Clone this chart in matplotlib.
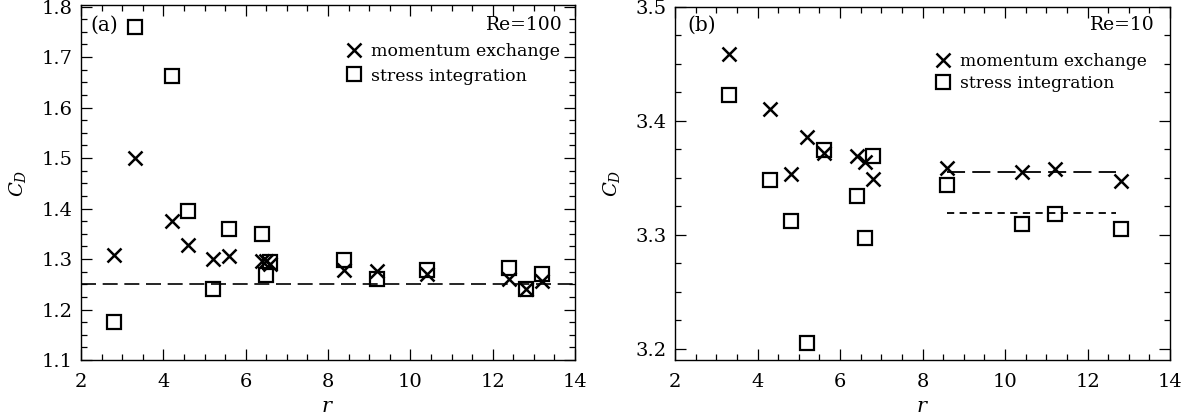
import matplotlib
matplotlib.use("Agg")
import matplotlib.pyplot as plt
from matplotlib.ticker import MultipleLocator, FormatStrFormatter
from matplotlib.lines import Line2D

plt.rcParams['font.family'] = ['DejaVu Serif']
plt.rcParams['mathtext.fontset'] = 'dejavuserif'

# ---- Panel (a): Re = 100 ----
r_a_mom = [2.8, 3.3, 4.2, 4.6, 5.2, 5.6, 6.4, 6.5, 6.6, 8.4, 9.2, 10.4, 12.4, 12.8, 13.2]
cd_a_mom = [1.307, 1.500, 1.376, 1.327, 1.300, 1.305, 1.296, 1.297, 1.290, 1.278, 1.277, 1.271, 1.261, 1.240, 1.257]
r_a_str = [2.8, 3.3, 4.2, 4.6, 5.2, 5.6, 6.4, 6.5, 6.6, 8.4, 9.2, 10.4, 12.4, 12.8, 13.2]
cd_a_str = [1.175, 1.760, 1.662, 1.396, 1.240, 1.360, 1.349, 1.268, 1.294, 1.299, 1.261, 1.278, 1.282, 1.240, 1.270]
ref_a = 1.25
ref_a_range = [2.0, 14.0]

# ---- Panel (b): Re = 10 ----
r_b_mom = [3.3, 4.3, 4.8, 5.2, 5.6, 6.4, 6.6, 6.8, 8.6, 10.4, 11.2, 12.8]
cd_b_mom = [3.459, 3.410, 3.353, 3.386, 3.372, 3.369, 3.364, 3.349, 3.359, 3.355, 3.358, 3.347]
r_b_str = [3.3, 4.3, 4.8, 5.2, 5.6, 6.4, 6.6, 6.8, 8.6, 10.4, 11.2, 12.8]
cd_b_str = [3.423, 3.348, 3.312, 3.205, 3.374, 3.334, 3.297, 3.369, 3.344, 3.309, 3.318, 3.305]
mean_b_mom = 3.355
mean_b_str = 3.319
mean_b_range = [8.6, 12.7]

W, H = 1186, 419
fig = plt.figure(figsize=(W / 100, H / 100), dpi=100)

ax1 = fig.add_axes([81 / W, 1 - 360 / H, 494 / W, 354.5 / H])
ax2 = fig.add_axes([675 / W, 1 - 360 / H, 495 / W, 353 / H])

mk = dict(linestyle='none', color='black', markersize=10)

def style(ax, ylim, ymaj):
    ax.set_xlim(2, 14)
    ax.set_ylim(*ylim)
    ax.xaxis.set_major_locator(MultipleLocator(2))
    ax.xaxis.set_minor_locator(MultipleLocator(0.5))
    ax.yaxis.set_major_locator(MultipleLocator(ymaj))
    ax.yaxis.set_minor_locator(MultipleLocator(ymaj / 4))
    ax.yaxis.set_major_formatter(FormatStrFormatter('%.1f'))
    ax.tick_params(which='both', direction='in', top=True, right=True,
                   labelsize=14, width=0.9, colors='black')
    ax.tick_params(axis='x', which='both', pad=9)
    ax.tick_params(axis='y', which='both', pad=6)
    ax.tick_params(which='major', length=8)
    ax.tick_params(which='minor', length=4)
    for s in ax.spines.values():
        s.set_linewidth(1.0)
    ax.set_xlabel(r'$r$', fontsize=15, labelpad=5)
    ax.set_ylabel(r'$C_D$', fontsize=14, labelpad=10)

# panel a
ax1.plot(ref_a_range, [ref_a, ref_a], color='black', lw=1.2, dashes=(9, 4))
ax1.plot(r_a_mom, cd_a_mom, marker='x', markeredgewidth=1.8, **mk)
ax1.plot(r_a_str, cd_a_str, marker='s', markerfacecolor='none', markeredgewidth=1.6, **mk)
style(ax1, (1.1, 1.802), 0.1)
ax1.text(0.018, 0.97, '(a)', transform=ax1.transAxes, fontsize=14.5, va='top', ha='left')
ax1.text(0.975, 0.97, 'Re=100', transform=ax1.transAxes, fontsize=13.5, va='top', ha='right')

# panel b
ax2.plot(mean_b_range, [mean_b_mom, mean_b_mom], color='black', lw=1.3, dashes=(10, 4))
ax2.plot(mean_b_range, [mean_b_str, mean_b_str], color='black', lw=1.3, dashes=(4, 3))
ax2.plot(r_b_mom, cd_b_mom, marker='x', markeredgewidth=1.8, **mk)
ax2.plot(r_b_str, cd_b_str, marker='s', markerfacecolor='none', markeredgewidth=1.6, **mk)
style(ax2, (3.19, 3.5), 0.1)
ax2.text(0.025, 0.975, '(b)', transform=ax2.transAxes, fontsize=14.5, va='top', ha='left')
ax2.text(0.97, 0.975, 'Re=10', transform=ax2.transAxes, fontsize=13.5, va='top', ha='right')

handles = [Line2D([], [], marker='x', markeredgewidth=1.8, **mk),
           Line2D([], [], marker='s', markerfacecolor='none', markeredgewidth=1.6, **mk)]
labels = ['momentum exchange', 'stress integration']

ax1.legend(handles, labels, loc='upper left', bbox_to_anchor=(0.535, 0.895), frameon=False,
           fontsize=12.5, handlelength=1.0, handletextpad=0.5, labelspacing=0.45,
           borderpad=0, borderaxespad=0)
ax2.legend(handles, labels, loc='upper left', bbox_to_anchor=(0.525, 0.87), frameon=False,
           fontsize=12.3, handlelength=1.0, handletextpad=0.5, labelspacing=0.3,
           borderpad=0, borderaxespad=0)

fig.savefig('out.png', dpi=100)
